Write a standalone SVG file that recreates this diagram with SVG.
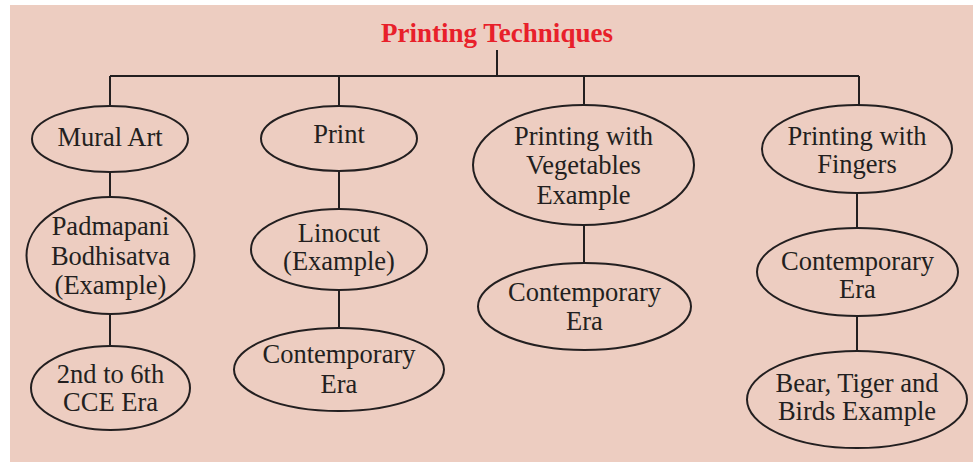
<svg xmlns="http://www.w3.org/2000/svg" width="973" height="462" viewBox="0 0 973 462">
<defs>
<style>
.n{fill:none;stroke:#231f20;stroke-width:2}
.c{stroke:#231f20;stroke-width:2;fill:none}
</style>
</defs>
<rect x="10" y="5" width="963" height="457" fill="#EDCDC1"/>
<text x="497" y="42" font-family="Liberation Serif, serif" font-size="27" font-weight="bold" fill="#E8202A" text-anchor="middle">Printing Techniques</text>
<g id="connectors" class="c">
<path d="M497 50V76M110 76H859M110 76V106M339 76V106M584 76V105M859 76V105"/>
<path d="M110 172V197M110 314V346"/>
<path d="M339 171V209M339 290V328"/>
<path d="M584 225V263"/>
<path d="M857 193V228M857 316V351"/>
</g>
<g id="nodes" font-family="Liberation Serif, serif" font-size="26.5" fill="#231f20" text-anchor="middle">
<g id="mural"><ellipse class="n" cx="110" cy="139" rx="78" ry="33"/><text x="110" y="146">Mural Art</text></g>
<g id="padmapani"><ellipse class="n" cx="110.5" cy="255.5" rx="84" ry="58.5"/><text x="110.5" y="235">Padmapani</text><text x="110.5" y="265">Bodhisatva</text><text x="110.5" y="294">(Example)</text></g>
<g id="cce"><ellipse class="n" cx="110.5" cy="388" rx="79.5" ry="42"/><text x="110.5" y="383">2nd to 6th</text><text x="110.5" y="411">CCE Era</text></g>
<g id="print"><ellipse class="n" cx="339" cy="138.5" rx="78" ry="32.5"/><text x="339" y="143">Print</text></g>
<g id="linocut"><ellipse class="n" cx="339" cy="249.5" rx="88" ry="40.5"/><text x="339" y="242">Linocut</text><text x="339" y="270">(Example)</text></g>
<g id="contemporary1"><ellipse class="n" cx="339" cy="369.5" rx="105" ry="41.5"/><text x="339" y="363">Contemporary</text><text x="339" y="393">Era</text></g>
<g id="vegetables"><ellipse class="n" cx="583.5" cy="165" rx="110.5" ry="60"/><text x="583.5" y="145">Printing with</text><text x="583.5" y="174">Vegetables</text><text x="583.5" y="204">Example</text></g>
<g id="contemporary2"><ellipse class="n" cx="584.5" cy="306.5" rx="106.5" ry="43.5"/><text x="584.5" y="301">Contemporary</text><text x="584.5" y="330">Era</text></g>
<g id="fingers"><ellipse class="n" cx="857" cy="149" rx="95" ry="44"/><text x="857" y="145">Printing with</text><text x="857" y="173">Fingers</text></g>
<g id="contemporary3"><ellipse class="n" cx="857.5" cy="272" rx="100.5" ry="44"/><text x="857.5" y="270">Contemporary</text><text x="857.5" y="298">Era</text></g>
<g id="bear"><ellipse class="n" cx="857" cy="399.5" rx="110" ry="48.5"/><text x="857" y="392">Bear, Tiger and</text><text x="857" y="420">Birds Example</text></g>
</g>
</svg>
